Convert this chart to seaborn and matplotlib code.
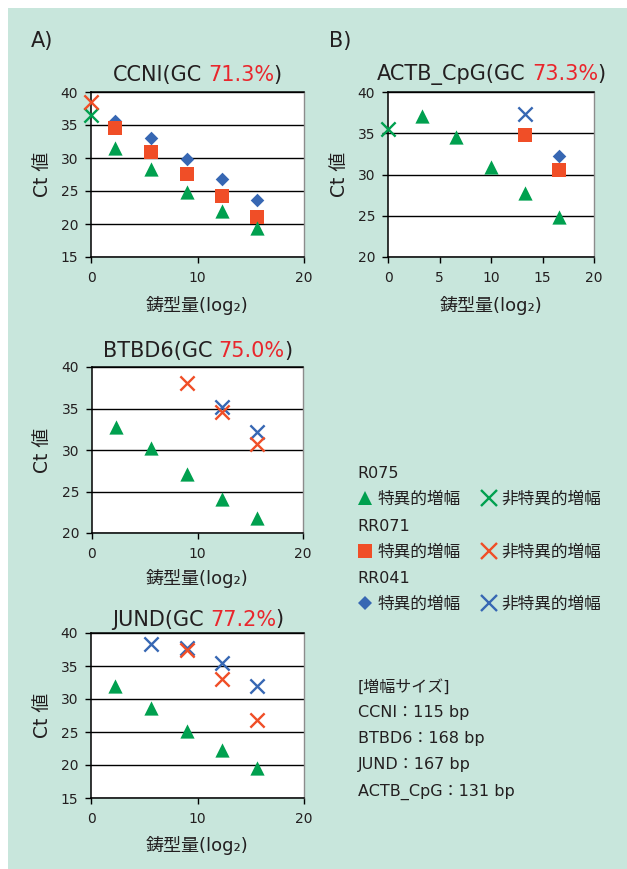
import matplotlib
matplotlib.use("Agg")
import matplotlib.pyplot as plt
import seaborn as sns
import pandas as pd
from matplotlib.lines import Line2D
from matplotlib.patches import Rectangle

# ---------------- data: Ct values vs template amount (log2) ----------------
log2_x = [2.3, 5.6, 9.0, 12.3, 15.6]          # CCNI / BTBD6 / JUND dilution points
actb_x = [3.3, 6.6, 10.0, 13.3, 16.6]         # ACTB_CpG dilution points

# CCNI
ccni_r075 = [31.5, 28.3, 24.8, 21.9, 19.4]
ccni_rr071 = [34.5, 30.9, 27.6, 24.2, 21.0]
ccni_rr041 = [35.6, 33.1, 29.9, 26.8, 23.7]
ccni_r075_ns_x, ccni_r075_ns = [0.0], [36.5]
ccni_rr071_ns_x, ccni_rr071_ns = [0.0], [38.5]

# ACTB_CpG
actb_r075 = [37.1, 34.6, 30.9, 27.8, 24.8]
actb_r075_ns_x, actb_r075_ns = [0.0], [35.5]
actb_rr071_x, actb_rr071 = [13.3, 16.6], [34.8, 30.5]
actb_rr041_x, actb_rr041 = [16.6], [32.2]
actb_rr041_ns_x, actb_rr041_ns = [13.3], [37.3]

# BTBD6
btbd6_r075 = [32.8, 30.2, 27.1, 24.1, 21.8]
btbd6_rr071_ns_x, btbd6_rr071_ns = [9.0, 12.3, 15.6], [38.1, 34.6, 30.7]
btbd6_rr041_ns_x, btbd6_rr041_ns = [12.3, 15.6], [35.2, 32.2]

# JUND
jund_r075 = [32.0, 28.6, 25.1, 22.3, 19.6]
jund_rr071_ns_x, jund_rr071_ns = [9.0, 12.3, 15.6], [37.5, 33.0, 26.8]
jund_rr041_ns_x, jund_rr041_ns = [5.6, 9.0, 12.3, 15.6], [38.4, 37.8, 35.5, 31.9]

genes = ["CCNI", "ACTB_CpG", "BTBD6", "JUND"]
gc_content = ["71.3%", "73.3%", "75.0%", "77.2%"]
kits = ["R075", "RR071", "RR041"]
amp_size_genes = ["CCNI", "BTBD6", "JUND", "ACTB_CpG"]
amp_size_bp = [115, 168, 167, 131]

# ---------------- styling ----------------
W, H = 627, 869
BG = "#c8e6dc"
INK = "#231f20"
RED_TXT = "#e9262c"
KIT_COLORS = {"R075": "#00a04f", "RR071": "#f04e27", "RR041": "#3767b3"}
SPEC_MARKERS = {"R075": "^", "RR071": "s", "RR041": "D"}
SPEC_SIZES = {"R075": 105, "RR071": 90, "RR041": 48}

sns.set_theme(style="white")
plt.rcParams["font.family"] = ["DejaVu Sans", "Noto Sans CJK JP"]
plt.rcParams["text.color"] = INK


def fx(px):
    return px / W


def fy(py):
    return 1 - py / H


def rect(l, t, r, b):
    return [fx(l), fy(b), (r - l) / W, (b - t) / H]


fig = plt.figure(figsize=(W / 100, H / 100), dpi=100)
fig.patch.set_facecolor("white")
fig.add_artist(Rectangle((fx(8), 0), 1 - fx(8), fy(8), transform=fig.transFigure,
                         facecolor=BG, edgecolor="none", zorder=-10))


def draw_series(ax, kit, kind, xs, ys):
    df = pd.DataFrame({"x": xs, "ct": ys})
    if kind == "spec":
        sns.scatterplot(data=df, x="x", y="ct", ax=ax, marker=SPEC_MARKERS[kit],
                        s=SPEC_SIZES[kit], color=KIT_COLORS[kit], linewidth=0,
                        zorder=4, clip_on=False, legend=False)
    else:
        sns.scatterplot(data=df, x="x", y="ct", ax=ax, marker="x", s=105,
                        color=KIT_COLORS[kit], linewidth=1.7, zorder=5,
                        clip_on=False, legend=False)


def style_axes(ax, ylim, yticks, xticks, ylab_px, xlab_px):
    ax.set_facecolor("white")
    ax.set_xlim(0, 20)
    ax.set_ylim(*ylim)
    ax.set_xticks(xticks)
    ax.set_yticks(yticks)
    ax.yaxis.grid(True, color="black", linewidth=1.0)
    ax.xaxis.grid(False)
    ax.set_axisbelow(True)
    for side in ["left", "bottom", "top"]:
        ax.spines[side].set_color("black")
        ax.spines[side].set_linewidth(1.1)
    ax.spines["right"].set_color("#8c8c8c")
    ax.spines["right"].set_linewidth(1.0)
    ax.tick_params(axis="both", direction="out", length=4.3, width=1.0,
                   color="black", labelsize=10, labelcolor=INK,
                   left=True, bottom=True)
    ax.tick_params(axis="y", pad=5)
    ax.tick_params(axis="x", pad=6)
    ax.set_xlabel("鋳型量(log₂)", fontsize=13, color=INK, va="center")
    ax.set_ylabel("Ct 値", fontsize=13.5, color=INK, va="center")
    bb = ax.get_position()
    ax_w, ax_h = bb.width * W, bb.height * H
    ax_l = bb.x0 * W
    ax_b = (1 - bb.y0) * H
    ax.yaxis.set_label_coords((ylab_px - ax_l) / ax_w, 0.5)
    ax.xaxis.set_label_coords(0.5, -(xlab_px - ax_b) / ax_h)


def rich_title(xc_px, base_px, gene, gc, size=15):
    renderer = fig.canvas.get_renderer()
    parts = [(gene + "(GC", INK), (gc, RED_TXT), (")", INK)]
    texts = [fig.text(0, fy(base_px), s, color=c, fontsize=size,
                      va="baseline", ha="left") for s, c in parts]
    widths = [t.get_window_extent(renderer).width for t in texts]
    gaps = [size * 100 / 72 * 0.3, -1.0, 0]
    total = sum(widths) + sum(gaps)
    x = xc_px - total / 2
    for t, w, g in zip(texts, widths, gaps):
        t.set_x(fx(x))
        x += w + g


# ---------------- panels ----------------
axA = fig.add_axes(rect(91, 92, 304, 257))
draw_series(axA, "RR041", "spec", log2_x, ccni_rr041)
draw_series(axA, "RR071", "spec", log2_x, ccni_rr071)
draw_series(axA, "R075", "spec", log2_x, ccni_r075)
draw_series(axA, "R075", "ns", ccni_r075_ns_x, ccni_r075_ns)
draw_series(axA, "RR071", "ns", ccni_rr071_ns_x, ccni_rr071_ns)
style_axes(axA, (15, 40), [15, 20, 25, 30, 35, 40], [0, 10, 20], 42.5, 305)

axB = fig.add_axes(rect(388, 92, 594, 257))
draw_series(axB, "RR041", "spec", actb_rr041_x, actb_rr041)
draw_series(axB, "RR071", "spec", actb_rr071_x, actb_rr071)
draw_series(axB, "R075", "spec", actb_x, actb_r075)
draw_series(axB, "R075", "ns", actb_r075_ns_x, actb_r075_ns)
draw_series(axB, "RR041", "ns", actb_rr041_ns_x, actb_rr041_ns)
style_axes(axB, (20, 40), [20, 25, 30, 35, 40], [0, 5, 10, 15, 20], 339, 305)

axC = fig.add_axes(rect(92, 367, 303, 533))
draw_series(axC, "R075", "spec", log2_x, btbd6_r075)
draw_series(axC, "RR041", "ns", btbd6_rr041_ns_x, btbd6_rr041_ns)
draw_series(axC, "RR071", "ns", btbd6_rr071_ns_x, btbd6_rr071_ns)
style_axes(axC, (20, 40), [20, 25, 30, 35, 40], [0, 10, 20], 42.5, 578)

axD = fig.add_axes(rect(91, 633, 304, 798))
draw_series(axD, "R075", "spec", log2_x, jund_r075)
draw_series(axD, "RR041", "ns", jund_rr041_ns_x, jund_rr041_ns)
draw_series(axD, "RR071", "ns", jund_rr071_ns_x, jund_rr071_ns)
style_axes(axD, (15, 40), [15, 20, 25, 30, 35, 40], [0, 10, 20], 42.5, 845)

# titles
for ax, gene, gc, base in [(axA, genes[0], gc_content[0], 81),
                           (axB, genes[1], gc_content[1], 80),
                           (axC, genes[2], gc_content[2], 357),
                           (axD, genes[3], gc_content[3], 625.5)]:
    bb = ax.get_position()
    rich_title((bb.x0 + bb.width / 2) * W, base, gene, gc)

fig.text(fx(31), fy(47), "A)", fontsize=15, va="baseline", ha="left", color=INK)
fig.text(fx(329), fy(47), "B)", fontsize=15, va="baseline", ha="left", color=INK)

# ---------------- kit legends ----------------
LEG_MS = {"R075": 10, "RR071": 9.4, "RR041": 7.6}
for kit, top in zip(kits, [466, 519, 571]):
    handles = [
        Line2D([], [], ls="none", marker=SPEC_MARKERS[kit], markersize=LEG_MS[kit],
               color=KIT_COLORS[kit], markeredgewidth=0),
        Line2D([], [], ls="none", marker="x", markersize=11,
               color=KIT_COLORS[kit], markeredgewidth=1.7),
    ]
    leg = fig.legend(handles, ["特異的増幅", "非特異的増幅"], ncol=2, title=kit,
                     loc="upper left", bbox_to_anchor=(fx(357), fy(top)),
                     frameon=False, alignment="left", fontsize=12,
                     title_fontsize=11.5, handlelength=1.0, handletextpad=0.25,
                     columnspacing=1.2, borderpad=0, borderaxespad=0,
                     labelspacing=0.55, labelcolor=INK)
    leg.get_title().set_color(INK)

# ---------------- amplicon sizes ----------------
fig.text(fx(358), fy(687), "[増幅サイズ]", fontsize=11.5, va="center", ha="left", color=INK)
for g, bp, yc in zip(amp_size_genes, amp_size_bp, [712, 739, 765, 792]):
    fig.text(fx(358), fy(yc), f"{g}：{bp} bp", fontsize=11.5, va="center",
             ha="left", color=INK)

fig.savefig("out.png", dpi=100, facecolor=fig.get_facecolor())
